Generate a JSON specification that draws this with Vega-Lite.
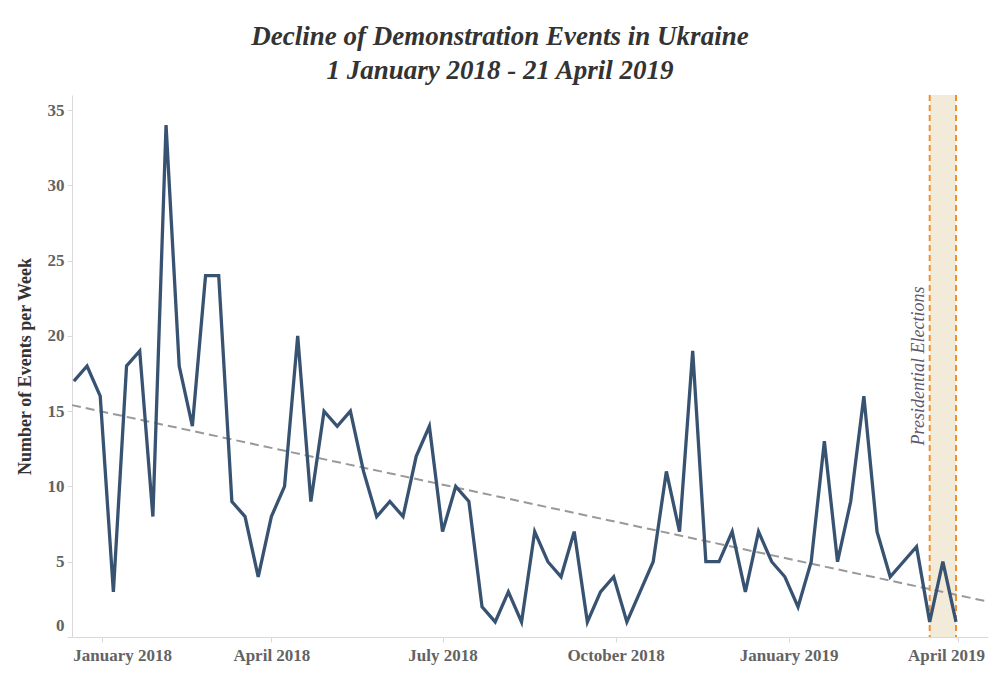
{
  "$schema": "https://vega.github.io/schema/vega-lite/v6.json",
  "autosize": {"type": "none"},
  "width": 916,
  "height": 542,
  "padding": {"left": 72, "top": 95, "right": 12, "bottom": 47},
  "background": "white",
  "title": {
    "text": ["Decline of Demonstration Events in Ukraine", "1 January 2018 - 21 April 2019"],
    "font": "Liberation Serif",
    "fontSize": 27,
    "fontStyle": "italic",
    "fontWeight": "bold",
    "color": "#333333",
    "lineHeight": 34,
    "anchor": "middle",
    "dx": -30,
    "offset": 9
  },
  "config": {
    "view": {"stroke": null},
    "axis": {
      "grid": false,
      "domainColor": "#d9d9d9",
      "tickColor": "#d9d9d9",
      "labelFont": "Liberation Serif",
      "labelFontWeight": "bold",
      "labelColor": "#636363",
      "labelFontSize": 17,
      "titleFont": "Liberation Serif",
      "titleFontWeight": "bold",
      "titleColor": "#333333",
      "titleFontSize": 18
    }
  },
  "datasets": {
    "weekly": [
      {"week": "2017-12-17", "events": 17},
      {"week": "2017-12-24", "events": 18},
      {"week": "2017-12-31", "events": 16},
      {"week": "2018-01-07", "events": 3},
      {"week": "2018-01-14", "events": 18},
      {"week": "2018-01-21", "events": 19},
      {"week": "2018-01-28", "events": 8},
      {"week": "2018-02-04", "events": 34},
      {"week": "2018-02-11", "events": 18},
      {"week": "2018-02-18", "events": 14},
      {"week": "2018-02-25", "events": 24},
      {"week": "2018-03-04", "events": 24},
      {"week": "2018-03-11", "events": 9},
      {"week": "2018-03-18", "events": 8},
      {"week": "2018-03-25", "events": 4},
      {"week": "2018-04-01", "events": 8},
      {"week": "2018-04-08", "events": 10},
      {"week": "2018-04-15", "events": 20},
      {"week": "2018-04-22", "events": 9},
      {"week": "2018-04-29", "events": 15},
      {"week": "2018-05-06", "events": 14},
      {"week": "2018-05-13", "events": 15},
      {"week": "2018-05-20", "events": 11},
      {"week": "2018-05-27", "events": 8},
      {"week": "2018-06-03", "events": 9},
      {"week": "2018-06-10", "events": 8},
      {"week": "2018-06-17", "events": 12},
      {"week": "2018-06-24", "events": 14},
      {"week": "2018-07-01", "events": 7},
      {"week": "2018-07-08", "events": 10},
      {"week": "2018-07-15", "events": 9},
      {"week": "2018-07-22", "events": 2},
      {"week": "2018-07-29", "events": 1},
      {"week": "2018-08-05", "events": 3},
      {"week": "2018-08-12", "events": 1},
      {"week": "2018-08-19", "events": 7},
      {"week": "2018-08-26", "events": 5},
      {"week": "2018-09-02", "events": 4},
      {"week": "2018-09-09", "events": 7},
      {"week": "2018-09-16", "events": 1},
      {"week": "2018-09-23", "events": 3},
      {"week": "2018-09-30", "events": 4},
      {"week": "2018-10-07", "events": 1},
      {"week": "2018-10-14", "events": 3},
      {"week": "2018-10-21", "events": 5},
      {"week": "2018-10-28", "events": 11},
      {"week": "2018-11-04", "events": 7},
      {"week": "2018-11-11", "events": 19},
      {"week": "2018-11-18", "events": 5},
      {"week": "2018-11-25", "events": 5},
      {"week": "2018-12-02", "events": 7},
      {"week": "2018-12-09", "events": 3},
      {"week": "2018-12-16", "events": 7},
      {"week": "2018-12-23", "events": 5},
      {"week": "2018-12-30", "events": 4},
      {"week": "2019-01-06", "events": 2},
      {"week": "2019-01-13", "events": 5},
      {"week": "2019-01-20", "events": 13},
      {"week": "2019-01-27", "events": 5},
      {"week": "2019-02-03", "events": 9},
      {"week": "2019-02-10", "events": 16},
      {"week": "2019-02-17", "events": 7},
      {"week": "2019-02-24", "events": 4},
      {"week": "2019-03-03", "events": 5},
      {"week": "2019-03-10", "events": 6},
      {"week": "2019-03-17", "events": 1},
      {"week": "2019-03-24", "events": 5},
      {"week": "2019-03-31", "events": 1}
    ],
    "trend": [
      {"week": "2017-12-16", "events": 15.4},
      {"week": "2019-04-17", "events": 2.35}
    ],
    "elections": [
      {"start": "2019-03-17", "end": "2019-03-31", "label": "Presidential Elections"}
    ],
    "electionEdges": [
      {"week": "2019-03-17"},
      {"week": "2019-03-31"}
    ]
  },
  "layer": [
    {
      "data": {"name": "elections"},
      "mark": {"type": "rect", "fill": "#f3ebda"},
      "encoding": {
        "x": {"field": "start", "type": "temporal"},
        "x2": {"field": "end"}
      }
    },
    {
      "data": {"name": "electionEdges"},
      "mark": {"type": "rule", "stroke": "#f28e2b", "strokeWidth": 2, "strokeDash": [6, 4]},
      "encoding": {
        "x": {"field": "week", "type": "temporal"}
      }
    },
    {
      "data": {"name": "trend"},
      "mark": {"type": "line", "stroke": "#999999", "strokeWidth": 2, "strokeDash": [9, 5]},
      "encoding": {
        "x": {"field": "week", "type": "temporal"},
        "y": {"field": "events", "type": "quantitative"}
      }
    },
    {
      "data": {"name": "weekly"},
      "mark": {"type": "line", "stroke": "#385371", "strokeWidth": 3.3, "strokeJoin": "miter"},
      "encoding": {
        "x": {
          "field": "week",
          "type": "temporal",
          "scale": {"type": "utc", "domain": [1513382400000, 1555459200000], "nice": false},
          "axis": {
            "title": null,
            "values": [1514764800000, 1522540800000, 1530403200000, 1538352000000, 1546300800000, 1554076800000],
            "labelExpr": "utcFormat(datum.value, '%B %Y')",
            "tickSize": 5,
            "labelPadding": 5,
            "labelOffset": {
              "condition": [
                {"test": "time(datum.value) < 1515000000000", "value": 20},
                {"test": "time(datum.value) > 1550000000000", "value": -12}
              ],
              "value": 0
            }
          }
        },
        "y": {
          "field": "events",
          "type": "quantitative",
          "scale": {"domain": [0, 36], "nice": false, "zero": true},
          "axis": {
            "title": "Number of Events per Week",
            "values": [0, 5, 10, 15, 20, 25, 30, 35],
            "tickSize": 5,
            "labelPadding": 3,
            "titleX": -47,
            "titleY": 271,
            "titleAngle": 270,
            "titleAlign": "center",
            "titleBaseline": "middle",
            "labelOffset": {"condition": {"test": "datum.value == 0", "value": -12}, "value": 0}
          }
        }
      }
    },
    {
      "data": {"name": "elections"},
      "mark": {
        "type": "text",
        "angle": 270,
        "align": "center",
        "baseline": "alphabetic",
        "dy": -6,
        "font": "Liberation Serif",
        "fontStyle": "italic",
        "fontSize": 18,
        "color": "#5e566e"
      },
      "encoding": {
        "x": {"field": "start", "type": "temporal"},
        "y": {"datum": 18, "type": "quantitative"},
        "text": {"field": "label"}
      }
    }
  ]
}
